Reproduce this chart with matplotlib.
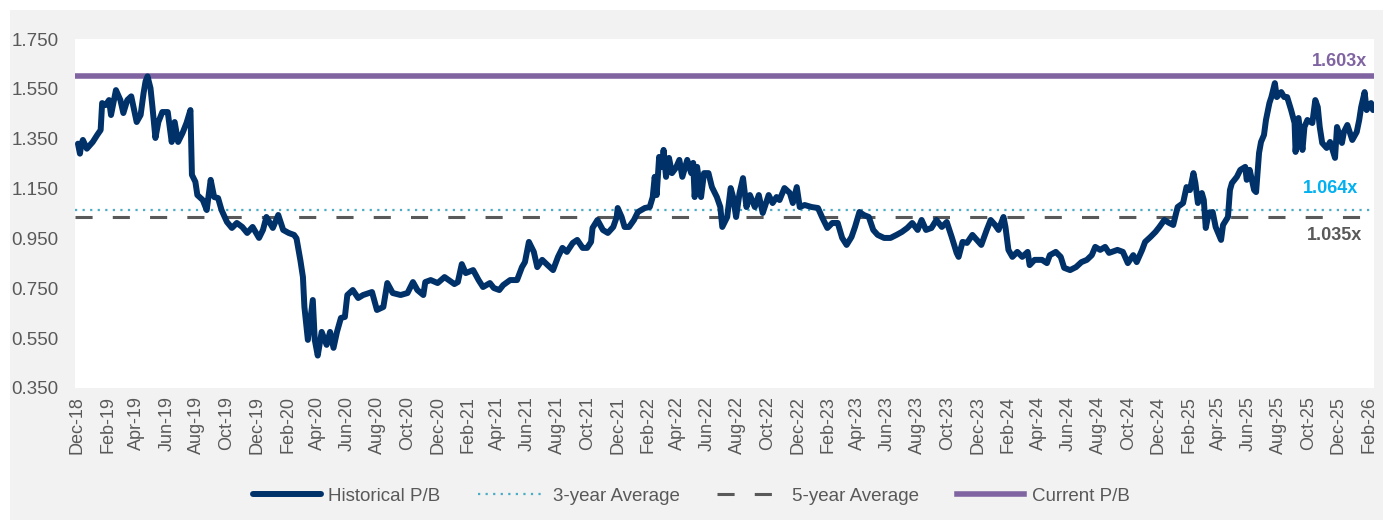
import pandas as pd
import numpy as np
import matplotlib
matplotlib.use("Agg")
import matplotlib.pyplot as plt
import matplotlib.dates as mdates
from matplotlib.patches import Rectangle

plt.rcParams["font.family"] = ["Liberation Sans", "DejaVu Sans"]

# ── data ───────────────────────────────────────────────────────────────────
DATES = [
    "2018-12-03", "2018-12-07", "2018-12-10", "2018-12-13", "2018-12-21", "2019-01-02",
    "2019-01-11", "2019-01-18", "2019-01-21", "2019-01-28", "2019-02-04", "2019-02-08",
    "2019-02-18", "2019-02-27", "2019-03-05", "2019-03-13", "2019-03-21", "2019-04-01",
    "2019-04-09", "2019-04-15", "2019-04-19", "2019-04-23", "2019-04-29", "2019-05-03",
    "2019-05-09", "2019-05-15", "2019-05-23", "2019-06-03", "2019-06-11", "2019-06-17",
    "2019-06-24", "2019-07-03", "2019-07-11", "2019-07-19", "2019-07-22", "2019-07-29",
    "2019-08-02", "2019-08-13", "2019-08-21", "2019-08-29", "2019-09-05", "2019-09-13",
    "2019-09-20", "2019-10-01", "2019-10-11", "2019-10-21", "2019-11-01", "2019-11-11",
    "2019-11-22", "2019-12-05", "2019-12-13", "2019-12-20", "2020-01-02", "2020-01-13",
    "2020-01-23", "2020-02-03", "2020-02-14", "2020-02-19", "2020-02-27", "2020-03-03",
    "2020-03-06", "2020-03-13", "2020-03-23", "2020-03-27", "2020-04-02", "2020-04-10",
    "2020-04-20", "2020-04-27", "2020-05-04", "2020-05-11", "2020-05-19", "2020-05-27",
    "2020-06-01", "2020-06-12", "2020-06-23", "2020-07-03", "2020-07-21", "2020-07-31",
    "2020-08-13", "2020-08-21", "2020-09-01", "2020-09-17", "2020-10-01", "2020-10-12",
    "2020-10-21", "2020-11-02", "2020-11-06", "2020-11-17", "2020-12-01", "2020-12-15",
    "2021-01-04", "2021-01-11", "2021-01-19", "2021-01-27", "2021-02-11", "2021-02-22",
    "2021-03-03", "2021-03-17", "2021-03-25", "2021-04-05", "2021-04-13", "2021-04-27",
    "2021-05-11", "2021-05-21", "2021-05-27", "2021-06-04", "2021-06-14", "2021-06-21",
    "2021-07-01", "2021-07-12", "2021-07-23", "2021-08-02", "2021-08-11", "2021-08-20",
    "2021-09-01", "2021-09-10", "2021-09-21", "2021-09-30", "2021-10-08", "2021-10-11",
    "2021-10-21", "2021-11-01", "2021-11-11", "2021-11-22", "2021-11-29", "2021-12-01",
    "2021-12-09", "2021-12-15", "2021-12-24", "2022-01-03", "2022-01-11", "2022-01-25",
    "2022-02-04", "2022-02-10", "2022-02-14", "2022-02-18", "2022-02-23", "2022-03-01",
    "2022-03-04", "2022-03-09", "2022-03-15", "2022-03-21", "2022-03-29", "2022-04-05",
    "2022-04-11", "2022-04-21", "2022-04-29", "2022-05-03", "2022-05-06", "2022-05-11",
    "2022-05-19", "2022-05-25", "2022-06-03", "2022-06-10", "2022-06-20", "2022-06-27",
    "2022-07-01", "2022-07-11", "2022-07-18", "2022-07-23", "2022-07-29", "2022-08-05",
    "2022-08-12", "2022-08-19", "2022-08-26", "2022-09-05", "2022-09-13", "2022-09-21",
    "2022-10-03", "2022-10-11", "2022-10-19", "2022-10-25", "2022-11-04", "2022-11-15",
    "2022-11-21", "2022-11-29", "2022-12-05", "2022-12-15", "2022-12-29", "2023-01-11",
    "2023-01-20", "2023-01-30", "2023-02-09", "2023-02-20", "2023-03-01", "2023-03-10",
    "2023-03-20", "2023-03-27", "2023-04-05", "2023-04-14", "2023-04-24", "2023-05-03",
    "2023-05-12", "2023-05-25", "2023-06-07", "2023-06-19", "2023-06-30", "2023-07-11",
    "2023-07-21", "2023-08-01", "2023-08-09", "2023-08-18", "2023-08-29", "2023-09-08",
    "2023-09-19", "2023-09-29", "2023-10-09", "2023-10-19", "2023-10-23", "2023-10-31",
    "2023-11-09", "2023-11-20", "2023-11-29", "2023-12-08", "2023-12-19", "2023-12-27",
    "2024-01-05", "2024-01-12", "2024-01-22", "2024-01-26", "2024-02-01", "2024-02-09",
    "2024-02-19", "2024-02-29", "2024-03-11", "2024-03-15", "2024-03-25", "2024-04-09",
    "2024-04-19", "2024-04-25", "2024-05-07", "2024-05-17", "2024-05-24", "2024-06-05",
    "2024-06-17", "2024-06-28", "2024-07-09", "2024-07-19", "2024-07-26", "2024-08-05",
    "2024-08-15", "2024-08-23", "2024-09-09", "2024-09-20", "2024-09-30", "2024-10-11",
    "2024-10-18", "2024-10-29", "2024-11-04", "2024-11-15", "2024-11-25", "2024-12-03",
    "2024-12-13", "2024-12-23", "2024-12-31", "2025-01-09", "2025-01-20", "2025-01-27",
    "2025-02-03", "2025-02-10", "2025-02-14", "2025-02-19", "2025-02-27", "2025-03-03",
    "2025-03-07", "2025-03-13", "2025-03-21", "2025-03-27", "2025-04-07", "2025-04-11",
    "2025-04-21", "2025-04-25", "2025-04-29", "2025-05-09", "2025-05-16", "2025-05-26",
    "2025-05-29", "2025-06-04", "2025-06-13", "2025-06-17", "2025-06-23", "2025-06-27",
    "2025-07-03", "2025-07-07", "2025-07-14", "2025-07-18", "2025-07-25", "2025-07-29",
    "2025-08-07", "2025-08-13", "2025-08-19", "2025-08-27", "2025-09-03", "2025-09-05",
    "2025-09-11", "2025-09-19", "2025-09-23", "2025-09-29", "2025-10-09", "2025-10-15",
    "2025-10-20", "2025-10-24", "2025-10-29", "2025-11-07", "2025-11-14", "2025-11-24",
    "2025-11-28", "2025-12-08", "2025-12-12", "2025-12-19", "2025-12-29", "2026-01-07",
    "2026-01-12", "2026-01-16", "2026-01-23", "2026-01-27", "2026-02-05", "2026-02-09",
]
PB = [
    1.330, 1.290, 1.330, 1.345, 1.310, 1.337,
    1.365, 1.385, 1.493, 1.485, 1.505, 1.445,
    1.545, 1.505, 1.453, 1.505, 1.520, 1.417,
    1.445, 1.533, 1.580, 1.600, 1.553, 1.477,
    1.353, 1.417, 1.457, 1.457, 1.337, 1.417,
    1.337, 1.373, 1.413, 1.465, 1.205, 1.177,
    1.124, 1.104, 1.064, 1.185, 1.116, 1.112,
    1.064, 1.016, 0.992, 1.012, 0.996, 0.972,
    0.996, 0.952, 0.984, 1.036, 0.992, 1.044,
    0.984, 0.972, 0.964, 0.950, 0.860, 0.795,
    0.675, 0.543, 0.703, 0.543, 0.480, 0.575,
    0.523, 0.575, 0.511, 0.575, 0.631, 0.635,
    0.723, 0.743, 0.711, 0.723, 0.735, 0.663,
    0.675, 0.771, 0.731, 0.723, 0.731, 0.775,
    0.743, 0.723, 0.775, 0.783, 0.771, 0.795,
    0.767, 0.775, 0.847, 0.811, 0.823, 0.783,
    0.755, 0.771, 0.751, 0.743, 0.763, 0.783,
    0.783, 0.835, 0.855, 0.936, 0.896, 0.835,
    0.864, 0.843, 0.823, 0.876, 0.912, 0.896,
    0.932, 0.944, 0.912, 0.912, 0.936, 0.992,
    1.024, 0.984, 0.972, 0.996, 1.036, 1.072,
    1.036, 0.996, 0.996, 1.024, 1.056, 1.072,
    1.076, 1.116, 1.197, 1.124, 1.277, 1.237,
    1.305, 1.197, 1.273, 1.212, 1.233, 1.265,
    1.197, 1.265, 1.212, 1.253, 1.116, 1.237,
    1.116, 1.212, 1.212, 1.156, 1.116, 1.076,
    0.996, 1.036, 1.152, 1.116, 1.036, 1.132,
    1.192, 1.076, 1.124, 1.076, 1.124, 1.052,
    1.124, 1.092, 1.116, 1.104, 1.152, 1.132,
    1.092, 1.156, 1.076, 1.084, 1.076, 1.072,
    1.032, 0.992, 1.012, 1.012, 0.952, 0.924,
    0.956, 0.996, 1.056, 1.044, 1.036, 0.984,
    0.964, 0.952, 0.952, 0.964, 0.976, 0.992,
    1.012, 0.984, 1.024, 0.984, 0.992, 1.024,
    0.996, 1.016, 0.956, 0.892, 0.876, 0.936,
    0.932, 0.964, 0.944, 0.924, 0.984, 1.024,
    1.004, 0.984, 1.036, 0.996, 0.904, 0.876,
    0.896, 0.876, 0.896, 0.843, 0.864, 0.864,
    0.851, 0.883, 0.896, 0.876, 0.832, 0.823,
    0.835, 0.855, 0.864, 0.883, 0.916, 0.904,
    0.916, 0.892, 0.904, 0.896, 0.851, 0.883,
    0.855, 0.904, 0.936, 0.956, 0.976, 0.996,
    1.024, 1.012, 1.004, 1.076, 1.092, 1.156,
    1.144, 1.212, 1.172, 1.092, 1.132, 1.104,
    0.992, 1.052, 1.056, 0.996, 0.944, 1.004,
    1.036, 1.144, 1.172, 1.197, 1.225, 1.237,
    1.185, 1.225, 1.144, 1.136, 1.293, 1.337,
    1.365, 1.425, 1.493, 1.517, 1.573, 1.517,
    1.537, 1.517, 1.517, 1.465, 1.413, 1.297,
    1.433, 1.305, 1.397, 1.425, 1.413, 1.505,
    1.477, 1.397, 1.333, 1.313, 1.337, 1.273,
    1.397, 1.333, 1.377, 1.405, 1.345, 1.377,
    1.425, 1.477, 1.537, 1.465, 1.493, 1.465,
]
AVG_3Y = 1.064
AVG_5Y = 1.035
CURRENT = 1.603

SERIES_LABELS = ["Historical P/B", "3-year Average", "5-year Average", "Current P/B"]

dates = pd.to_datetime(DATES)

# ── colours ────────────────────────────────────────────────────────────────
NAVY = "#003169"
TEAL = "#4bacc6"
GREY = "#595959"
PURPLE = "#8064a2"
CYAN_TXT = "#00b0f0"
BG = "#f2f2f2"

# ── figure ─────────────────────────────────────────────────────────────────
fig = plt.figure(figsize=(13.83, 5.20), dpi=100, facecolor="white")
fig.patches.append(Rectangle((10 / 1383, 0), 1 - 10 / 1383, 1 - 10 / 520,
                             transform=fig.transFigure, facecolor=BG,
                             edgecolor="none", zorder=-5))
ax = fig.add_axes([75 / 1383, 1 - 388 / 520, (1374 - 75) / 1383, (388 - 39) / 520])
ax.set_zorder(2)
ax.set_facecolor("white")

h_cur = ax.axhline(CURRENT, color=PURPLE, lw=4.0, zorder=2, label=SERIES_LABELS[3])
h_3y = ax.axhline(AVG_3Y, color=TEAL, lw=1.6, linestyle=(0, (1, 2.4)), zorder=2,
                  label=SERIES_LABELS[1])
h_5y = ax.axhline(AVG_5Y, color=GREY, lw=2.2, linestyle=(0, (5.6, 6.6)), zorder=2,
                  label=SERIES_LABELS[2])
h_pb, = ax.plot(dates, PB, color=NAVY, lw=4.3, solid_joinstyle="round",
                solid_capstyle="round", zorder=3, label=SERIES_LABELS[0])

# value labels at the right
ax.text(0.995, CURRENT + 0.055, f"{CURRENT:.3f}x", transform=ax.get_yaxis_transform(),
        ha="right", va="center", fontsize=13, fontweight="bold", color=PURPLE)
ax.text(0.988, AVG_3Y + 0.085, f"{AVG_3Y:.3f}x", transform=ax.get_yaxis_transform(),
        ha="right", va="center", fontsize=13, fontweight="bold", color=CYAN_TXT)
ax.text(0.991, AVG_5Y - 0.072, f"{AVG_5Y:.3f}x", transform=ax.get_yaxis_transform(),
        ha="right", va="center", fontsize=13, fontweight="bold", color=GREY)

# axes
ax.set_ylim(0.35, 1.75)
ax.set_yticks(np.arange(0.35, 1.751, 0.2))
ax.yaxis.set_major_formatter(matplotlib.ticker.FormatStrFormatter("%.3f"))
ax.set_xlim(pd.Timestamp("2018-11-27"), pd.Timestamp("2026-02-11"))
ax.xaxis.set_major_locator(mdates.MonthLocator(bymonth=[2, 4, 6, 8, 10, 12]))
ax.xaxis.set_major_formatter(mdates.DateFormatter("%b-%y"))
ax.tick_params(axis="both", length=0, labelsize=13, labelcolor=GREY)
ax.tick_params(axis="y", pad=12, labelsize=13.5)
ax.tick_params(axis="x", pad=6)
for lab in ax.get_xticklabels():
    lab.set_rotation(90)
for s in ax.spines.values():
    s.set_visible(False)

leg = fig.legend(handles=[h_pb, h_3y, h_5y, h_cur], labels=SERIES_LABELS,
                 loc="center", bbox_to_anchor=(0.5, 1 - 496 / 520), ncol=4,
                 frameon=False, fontsize=13.5, handlelength=3.6, handletextpad=0.4,
                 columnspacing=2.0, labelcolor=GREY)

plt.savefig("out.png", dpi=100, facecolor=fig.get_facecolor())
plt.close()
